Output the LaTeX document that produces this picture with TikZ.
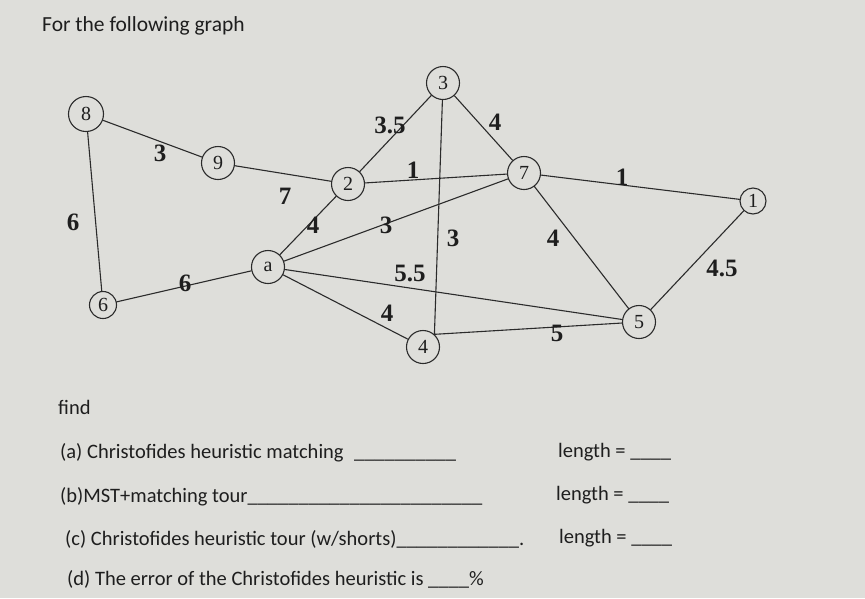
\documentclass[tikz,border=0pt]{standalone}
\usepackage{fontspec}
\setmainfont{Liberation Serif}
\setsansfont{Carlito}
\usetikzlibrary{positioning}
\definecolor{paper}{HTML}{DEDEDA}
\definecolor{ink}{HTML}{1E1E1E}
\definecolor{pen}{HTML}{2B2B2B}
\tikzset{
  vtx/.style={draw=pen, line width=1.1pt, circle, inner sep=0pt, minimum size=33pt,
    font=\fontsize{20}{20}\selectfont, text=ink},
  edge/.style={pen, line width=1.1pt, line cap=round},
  wt/.style={font=\fontsize{25}{25}\selectfont\bfseries, text=ink, inner sep=0pt},
  qtext/.style={font=\sffamily\fontsize{20.5}{24}\selectfont, text=ink, inner sep=0pt, anchor=base west}
}

\begin{document}
\begin{tikzpicture}[x=1pt, y=-1pt]
  \path[fill=paper, use as bounding box] (0,0) rectangle (865,598);

  % vertices
  \node[vtx, minimum size=35pt] (n8) at (86,114) {8};
  \node[vtx] (n9) at (218,163) {9};
  \node[vtx, minimum size=27pt] (n6) at (103,305) {6};
  \node[vtx] (na) at (268,267) {a};
  \node[vtx] (n2) at (348,184) {2};
  \node[vtx] (n3) at (443,83) {3};
  \node[vtx] (n7) at (524,173) {7};
  \node[vtx] (n4) at (423,347) {4};
  \node[vtx, minimum size=26pt] (n1) at (753,201) {1};
  \node[vtx] (n5) at (639,322) {5};

  % edges and weights
  \foreach \u/\v/\w/\lx/\ly [count=\k] in {n8/n9/3/160/153, n8/n6/6/73/222, n9/n2/7/285/196,
      n6/na/6/185/283, na/n2/4/313/225, n2/n3/3.5/390/125, n2/n7/1/413/170, n3/n7/4/495/122,
      na/n7/3/386/225, na/n5/5.5/410/273, na/n4/4/387/313, n7/n1/1/622/177, n7/n5/4/553/238,
      n1/n5/4.5/722/268}{
    \draw[edge] (\u) -- (\v);
    \node[wt] (w\k) at (\lx,\ly) {\w};}
  \draw[edge] (n3) -- (n4.48) -- (n5);
  \node[wt] (w15) at (453,238) {3};
  \node[wt] (w16) at (557,333) {5};

  % questions
  \node[qtext, font=\sffamily\fontsize{21.5}{24}\selectfont] (title) at (42,31) {For the following graph};
  \node[qtext] (find) at (58,414) {find};
  \node[qtext] (qa) at (60,458) {(a) Christofides heuristic matching};
  \node[qtext, base right=10pt of qa] (qablank) {\_\_\_\_\_\_\_\_\_\_};
  \node[qtext] (qb) at (60,502) {(b)MST+matching tour\_\_\_\_\_\_\_\_\_\_\_\_\_\_\_\_\_\_\_\_\_\_\_};
  \node[qtext] (qc) at (65,545) {(c) Christofides heuristic tour (w/shorts)\_\_\_\_\_\_\_\_\_\_\_\_.};
  \node[qtext] (qd) at (67,585) {(d) The error of the Christofides\ heuristic is \_\_\_\_\%};
  \node[qtext] (la) at (558,457) {length = \_\_\_\_};
  \node[qtext] (lb) at (556,500) {length = \_\_\_\_};
  \node[qtext] (lc) at (559,543) {length = \_\_\_\_};
\end{tikzpicture}
\end{document}
